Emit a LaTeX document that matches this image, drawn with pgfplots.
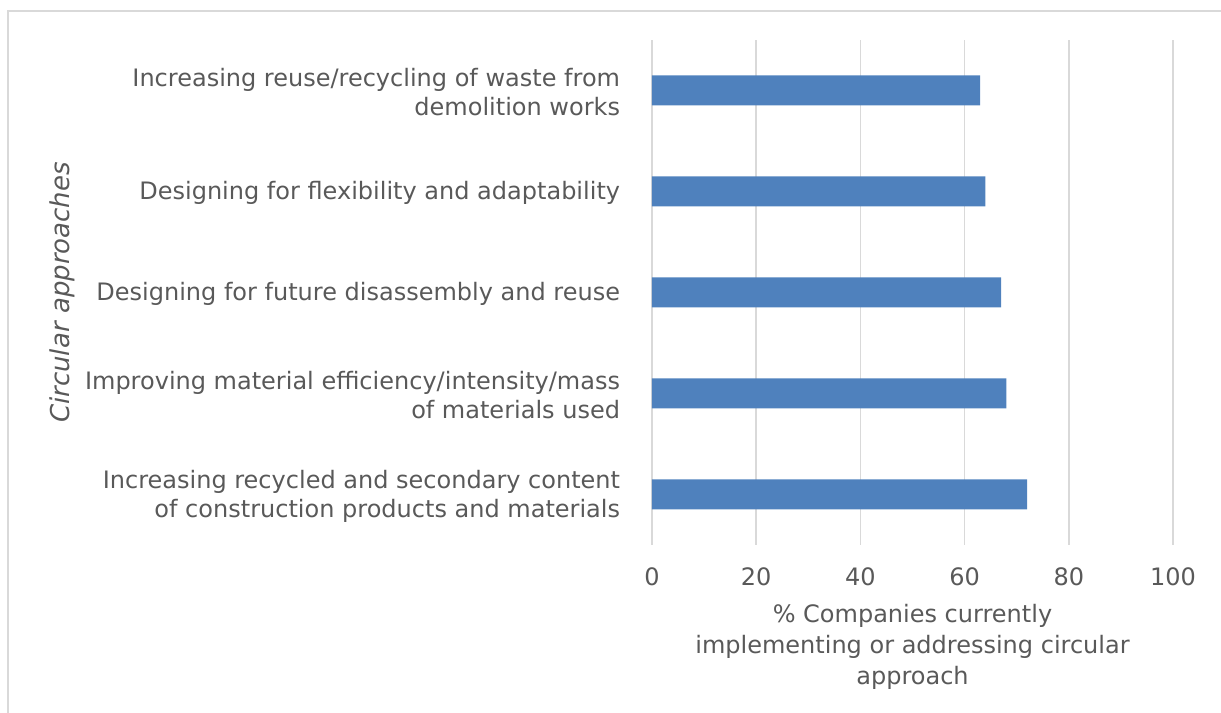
\documentclass[border=0pt]{standalone}
\usepackage{pgfplots}
\pgfplotsset{compat=1.18}
\usepackage{fontspec}
\setmainfont{DejaVu Sans}
\definecolor{txt}{HTML}{595959}
\definecolor{gridc}{HTML}{D9D9D9}
\definecolor{barc}{HTML}{4F81BD}
\begin{document}
\begin{tikzpicture}[x=1pt,y=1pt]
\useasboundingbox (0,0) rectangle (915.75,534.75);
\draw[gridc, line width=1.5pt] (6,0) -- (6,526.5) -- (915.75,526.5);
\begin{axis}[
  at={(489pt,126pt)}, anchor=south west,
  scale only axis, width=390.75pt, height=378.75pt,
  xbar, bar width=22.5pt,
  xmin=0, xmax=100, ymin=-0.5, ymax=4.5,
  xtick={0,20,40,60,80,100}, ytick={0,1,2,3,4},
  yticklabels={
    {Increasing recycled and secondary content\\of construction products and materials},
    {Improving material efficiency/intensity/mass\\of materials used},
    {Designing for future disassembly and reuse},
    {Designing for flexibility and adaptability},
    {Increasing reuse/recycling of waste from\\demolition works}},
  axis line style={draw=none},
  xmajorgrids, major grid style={gridc, line width=1.2pt},
  tick style={draw=none},
  /pgf/number format/assume math mode=true,
  every tick label/.append style={font=\fontsize{18}{22}\selectfont, text=txt},
  y tick label style={align=right, inner sep=0pt, xshift=-19.5pt, yshift=-1.2pt},
  x tick label style={inner sep=0pt, anchor=north, yshift=-17pt},
  xlabel={\% Companies currently\\implementing or addressing circular\\approach},
  xlabel style={align=center, font=\fontsize{18}{23.2}\selectfont, text=txt, at={(axis description cs:0.5,0)}, anchor=north, yshift=-41pt},
  ylabel={Circular approaches},
  ylabel style={font=\fontsize{19.5}{21.75}\selectfont\itshape, text=txt, at={(axis description cs:-1.132,0.5)}, anchor=center, rotate=0},
]
\addplot[fill=barc, draw=none] coordinates {(72,0) (68,1) (67,2) (64,3) (63,4)};
\end{axis}
\end{tikzpicture}
\end{document}
